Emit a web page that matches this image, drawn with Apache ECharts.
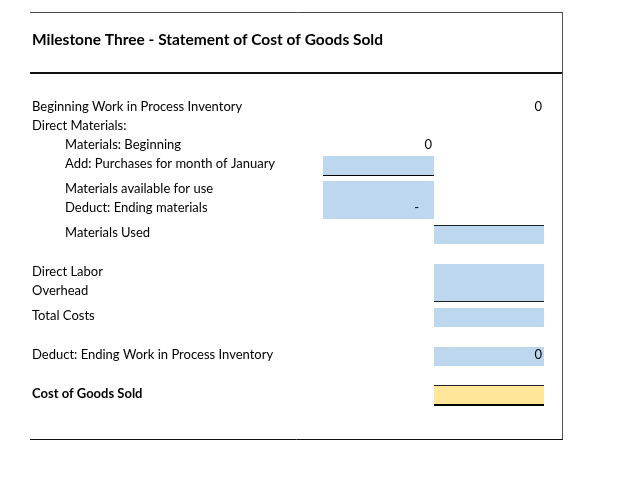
<!DOCTYPE html>
<html><head><meta charset="utf-8">
<script src="https://cdn.jsdelivr.net/npm/echarts@6/dist/echarts.min.js"></script>
<style>html,body{margin:0;padding:0;background:#fff}#c{width:621px;height:484px}</style>
</head><body><div id="c"></div>
<script>
// ---- content ----
const title = 'Milestone Three - Statement of Cost of Goods Sold';
const rowLabels = [
  'Beginning Work in Process Inventory',
  'Direct Materials:',
  'Materials: Beginning',
  'Add: Purchases for month of January',
  'Materials available for use',
  'Deduct: Ending materials',
  'Materials Used',
  'Direct Labor',
  'Overhead',
  'Total Costs',
  'Deduct: Ending Work in Process Inventory',
  'Cost of Goods Sold'
];
const rowIndent   = [0, 0, 1, 1, 1, 1, 1, 0, 0, 0, 0, 0];
const rowBold     = [0, 0, 0, 0, 0, 0, 0, 0, 0, 0, 0, 1];
const innerValues = ['', '', '0', '', '', '-', '', '', '', '', '', ''];
const outerValues = ['0', '', '', '', '', '', '', '', '', '', '0', ''];
const innerFill   = ['', '', '', 'in', 'in', 'in', '', '', '', '', '', ''];
const outerFill   = ['', '', '', '', '', '', 'in', 'in', 'in', 'in', 'in', 'total'];
const innerBottom = ['', '', '', 'thin', '', '', '', '', '', '', '', ''];
const outerTop    = ['', '', '', '', '', '', 'thin', '', '', '', '', 'thin'];
const outerBottom = ['', '', '', '', '', '', '', '', 'thin', '', '', 'double'];

// ---- layout (sheet geometry) ----
const colEdges   = [30, 63, 323, 434, 544, 563];
const rowTops    = [99, 118, 137, 156, 181, 200, 225, 264, 283, 308, 347, 385];
const rowHeights = [19, 19, 19, 19, 19, 19, 19, 19, 19, 19, 19, 20];
const fills = { in: '#BDD7EE', total: '#FFE699' };
const FONT = 'Lato, "Open Sans", sans-serif';

function renderRow(params, api) {
  const i = api.value(0);
  const top = rowTops[i], bot = top + rowHeights[i];
  const ch = [];
  function rect(x0, x1, y0, y1, color) {
    const a = api.coord([x0, y0]), b = api.coord([x1, y1]);
    ch.push({ type: 'rect', shape: { x: a[0], y: a[1], width: b[0] - a[0], height: b[1] - a[1] }, style: { fill: color } });
  }
  function hline(x0, x1, y, w, color) {
    const a = api.coord([x0, y]), b = api.coord([x1, y]);
    ch.push({ type: 'line', shape: { x1: a[0], y1: a[1], x2: b[0], y2: b[1] }, style: { stroke: color, lineWidth: w } });
  }
  function text(x, y, s, align, bold) {
    const p = api.coord([x, y]);
    ch.push({ type: 'text', style: { text: s, x: p[0], y: p[1], align: align, verticalAlign: 'middle',
      font: (bold ? 'bold ' : '') + '13px ' + FONT, fill: '#000' } });
  }
  if (innerFill[i]) rect(colEdges[2], colEdges[3], top, bot, fills[innerFill[i]]);
  if (outerFill[i]) rect(colEdges[3], colEdges[4], top, bot, fills[outerFill[i]]);
  if (innerBottom[i]) hline(colEdges[2], colEdges[3], bot + 0.5, 1, '#000');
  if (outerTop[i]) hline(colEdges[3], colEdges[4], top + 0.5, 1, '#222');
  if (outerBottom[i] === 'thin') hline(colEdges[3], colEdges[4], bot - 0.5, 1, '#222');
  if (outerBottom[i] === 'double') hline(colEdges[3], colEdges[4], bot, 2, '#000');
  const ty = bot - 11;
  text(colEdges[rowIndent[i] ? 1 : 0] + 2, ty, rowLabels[i], 'left', rowBold[i]);
  if (innerValues[i]) text(colEdges[3] - (innerValues[i] === '-' ? 15 : 2), ty, innerValues[i], 'right');
  if (outerValues[i]) text(colEdges[4] - 2, ty, outerValues[i], 'right');
  return { type: 'group', children: ch };
}

function renderFrame(params, api) {
  const L = colEdges[0], R = colEdges[5];
  const T = 12, H = 73, B = 439;
  const p = (x, y) => api.coord([x, y]);
  const ln = (a, b, w, c) => ({ type: 'line', shape: { x1: a[0], y1: a[1], x2: b[0], y2: b[1] }, style: { stroke: c, lineWidth: w } });
  return { type: 'group', children: [
    ln(p(L, T + 0.5), p(R, T + 0.5), 1, '#444'),
    ln(p(L, H), p(R, H), 2, '#111'),
    ln(p(R - 0.5, T), p(R - 0.5, B + 1), 1, '#555'),
    ln(p(L, B + 0.5), p(R, B + 0.5), 1, '#111'),
    { type: 'text', style: { text: title, x: p(L + 2, 40)[0], y: p(L + 2, 40)[1], verticalAlign: 'middle',
      font: 'bold 15.5px ' + FONT, fill: '#000' } }
  ]};
}

const chart = echarts.init(document.getElementById('c'), null, { renderer: 'canvas' });
chart.setOption({
  animation: false,
  grid: { left: 0, right: 0, top: 0, bottom: 0 },
  xAxis: { type: 'value', min: 0, max: 621, show: false },
  yAxis: { type: 'value', min: 0, max: 484, inverse: true, show: false },
  series: [
    { type: 'custom', renderItem: renderFrame, data: [[0]], silent: true },
    { type: 'custom', renderItem: renderRow, data: rowLabels.map((_, i) => [i]), silent: true }
  ]
});
</script></body></html>
